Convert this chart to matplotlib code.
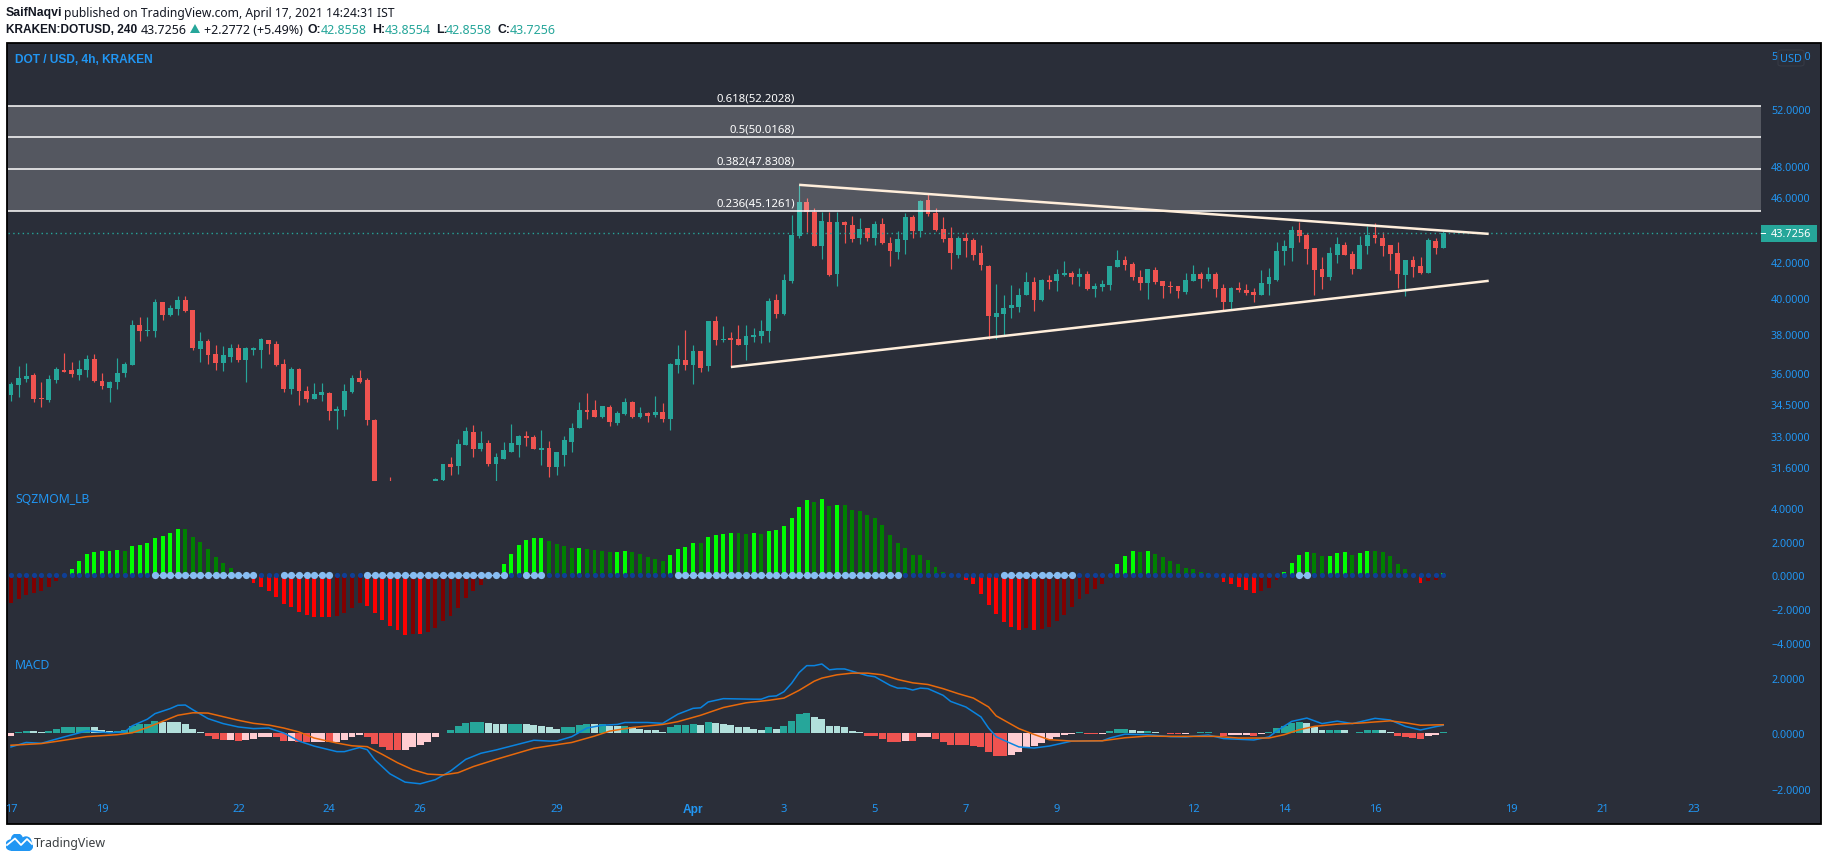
import numpy as np
import matplotlib
matplotlib.use("Agg")
import matplotlib.pyplot as plt
from matplotlib.patches import Rectangle, FancyBboxPatch, Circle, Polygon
from matplotlib.ticker import FixedLocator, FuncFormatter, NullLocator

# candles, 4h DOT/USD (bars hidden under the pane edge are guesses)
opens = [
    34.95, 35.40, 35.70, 35.90, 34.80, 34.70, 35.65, 36.15, 36.15, 35.90,
    36.15, 36.72, 35.60, 35.30, 35.55, 36.00, 36.41, 38.49, 38.16, 38.16,
    39.73, 39.03, 39.35, 39.84, 39.30, 37.23, 37.64, 36.97, 36.51, 36.82,
    37.28, 36.67, 37.18, 37.18, 37.69, 37.49, 36.46, 35.25, 36.21, 35.15,
    34.75, 34.95, 35.05, 34.19, 34.23, 35.10, 35.75, 35.65, 33.75, 29.60,
    30.20, 29.90, 29.20, 29.70, 29.40, 30.00, 30.60, 31.04, 31.74, 31.65,
    32.57, 33.17, 32.39, 32.67, 31.75, 31.98, 32.26, 32.57, 32.98, 32.94,
    32.35, 32.44, 31.62, 32.16, 32.71, 33.36, 34.20, 34.20, 33.88, 34.34,
    33.60, 34.02, 34.58, 33.88, 34.06, 33.97, 34.11, 33.78, 36.41, 36.66,
    36.41, 37.12, 36.36, 38.74, 37.71, 37.83, 37.78, 37.43, 37.88, 37.93,
    38.20, 39.87, 39.12, 40.95, 43.57, 45.67, 45.04, 42.98, 44.42, 41.35,
    44.42, 44.23, 43.45, 44.04, 43.45, 44.29, 43.16, 42.63, 43.33, 44.73,
    43.86, 45.79, 44.98, 43.98, 43.45, 42.45, 43.45, 43.33, 42.57, 41.81,
    38.96, 39.12, 39.44, 39.50, 40.15, 40.90, 39.87, 41.01, 40.95, 41.30,
    41.41, 41.13, 41.35, 40.50, 40.61, 40.73, 41.75, 42.16, 41.92, 41.18,
    40.84, 41.58, 40.95, 40.67, 40.67, 40.33, 40.95, 41.35, 41.07, 41.35,
    40.56, 39.77, 40.56, 40.44, 40.33, 40.15, 40.78, 41.01, 42.69, 42.86,
    43.92, 43.63, 42.86, 41.64, 41.18, 42.45, 43.04, 42.51, 41.64, 42.98,
    43.63, 43.45, 43.04, 42.57, 41.30, 42.16, 41.81, 41.41, 43.27, 42.8558,
]
highs = [
    35.57, 36.36, 36.50, 36.00, 35.55, 35.90, 36.31, 37.03, 36.56, 36.67,
    36.92, 36.97, 36.00, 35.60, 36.77, 36.56, 38.76, 38.92, 38.92, 39.94,
    39.78, 39.57, 40.06, 40.06, 39.30, 38.11, 37.74, 37.44, 37.38, 37.49,
    37.49, 37.33, 37.33, 37.79, 37.69, 37.64, 36.72, 36.31, 36.26, 35.35,
    35.50, 35.50, 35.10, 34.41, 35.45, 35.90, 36.15, 35.75, 33.77, 30.60,
    31.18, 30.40, 30.10, 30.00, 30.30, 30.80, 31.13, 31.74, 32.07, 32.86,
    33.41, 33.50, 33.22, 32.80, 32.21, 32.71, 33.55, 33.03, 33.22, 33.03,
    33.27, 32.76, 32.26, 32.98, 33.60, 34.58, 35.04, 34.69, 34.39, 34.44,
    34.16, 34.78, 34.64, 34.34, 34.11, 34.89, 34.53, 36.51, 37.43, 38.25,
    37.43, 37.12, 38.74, 39.01, 38.47, 38.14, 38.52, 38.52, 38.36, 38.79,
    39.98, 40.21, 41.35, 44.86, 46.78, 45.92, 45.29, 45.04, 45.04, 45.04,
    44.48, 44.79, 44.67, 44.04, 44.48, 44.67, 43.51, 43.86, 44.98, 44.86,
    45.79, 46.24, 45.29, 44.73, 44.10, 43.57, 43.75, 43.45, 43.04, 41.87,
    40.78, 40.15, 40.73, 40.56, 41.47, 41.18, 41.07, 41.30, 41.64, 42.10,
    41.52, 41.70, 41.52, 40.84, 41.01, 41.81, 42.75, 42.39, 42.04, 41.58,
    41.64, 41.75, 40.95, 40.95, 40.67, 41.41, 41.87, 41.47, 41.75, 41.47,
    40.78, 40.61, 40.90, 40.78, 40.56, 41.58, 41.70, 43.22, 43.33, 44.17,
    44.42, 43.75, 42.86, 42.33, 42.92, 43.51, 43.22, 42.69, 43.57, 44.17,
    44.35, 43.80, 43.04, 43.22, 42.16, 42.39, 42.33, 43.45, 43.45, 43.8554,
]
lows = [
    34.65, 34.85, 35.55, 34.60, 34.36, 34.60, 35.50, 36.05, 35.80, 35.65,
    35.80, 35.55, 35.25, 34.60, 35.25, 35.80, 36.41, 37.64, 37.90, 37.85,
    38.76, 38.97, 39.03, 39.19, 37.18, 36.56, 36.46, 36.15, 36.10, 36.56,
    36.56, 35.55, 36.92, 36.26, 36.97, 36.36, 35.10, 35.00, 34.45, 34.60,
    34.75, 34.65, 33.75, 33.33, 33.95, 35.05, 35.50, 33.53, 29.30, 29.00,
    29.60, 28.90, 28.80, 29.00, 29.10, 29.80, 30.50, 30.90, 31.27, 31.32,
    32.57, 32.07, 32.30, 31.66, 31.02, 31.94, 32.26, 32.07, 32.53, 32.39,
    31.71, 31.16, 31.25, 31.66, 32.26, 33.36, 33.78, 33.88, 33.83, 33.45,
    33.50, 33.97, 33.83, 33.83, 33.64, 33.88, 33.64, 33.27, 36.00, 36.15,
    35.49, 36.05, 36.10, 37.43, 37.63, 36.36, 37.43, 36.66, 37.63, 37.53,
    37.63, 38.90, 39.06, 40.84, 43.45, 43.80, 42.98, 42.22, 41.24, 40.67,
    43.16, 43.22, 43.10, 43.27, 43.04, 43.10, 41.81, 42.22, 42.51, 43.45,
    43.51, 44.79, 43.86, 43.22, 41.63, 42.27, 42.33, 42.16, 41.58, 37.78,
    37.78, 37.98, 38.90, 39.23, 40.15, 39.28, 39.82, 40.50, 40.38, 41.24,
    40.78, 40.67, 40.44, 40.04, 40.38, 40.44, 41.75, 41.58, 41.01, 40.44,
    39.93, 40.78, 39.98, 40.27, 39.98, 40.21, 40.95, 40.56, 40.95, 40.04,
    39.33, 39.39, 40.33, 40.15, 39.77, 40.15, 40.15, 40.95, 41.87, 42.10,
    43.22, 41.92, 40.15, 40.50, 41.01, 41.98, 42.45, 41.35, 41.64, 42.51,
    43.16, 42.39, 41.58, 40.56, 40.10, 41.18, 41.35, 41.41, 42.51, 42.8558,
]
closes = [
    35.45, 35.75, 35.85, 34.75, 34.75, 35.70, 36.21, 36.08, 35.95, 36.21,
    36.72, 35.60, 35.35, 35.55, 36.00, 36.46, 38.49, 38.16, 38.22, 39.73,
    39.03, 39.40, 39.84, 39.24, 37.28, 37.64, 36.92, 36.51, 36.92, 37.28,
    36.67, 37.28, 37.28, 37.74, 37.49, 36.41, 35.25, 36.21, 35.15, 34.75,
    35.00, 35.10, 34.19, 34.27, 35.15, 35.75, 35.55, 33.72, 29.60, 30.20,
    29.90, 29.20, 29.70, 29.40, 30.00, 30.60, 31.09, 31.74, 31.60, 32.63,
    33.22, 32.39, 32.67, 31.75, 32.03, 32.35, 32.67, 32.98, 32.89, 32.39,
    32.44, 31.62, 32.26, 32.80, 33.36, 34.20, 34.11, 33.88, 34.39, 33.64,
    34.06, 34.58, 33.88, 34.06, 33.92, 34.11, 33.78, 36.46, 36.72, 36.41,
    37.12, 36.26, 38.74, 37.73, 37.78, 37.73, 37.43, 37.93, 37.98, 38.20,
    39.82, 39.12, 41.01, 43.63, 45.67, 45.04, 42.98, 44.48, 41.30, 44.42,
    44.23, 43.39, 43.98, 43.45, 44.29, 43.16, 42.69, 43.39, 44.73, 43.86,
    45.73, 44.92, 43.92, 43.39, 42.57, 43.45, 43.27, 42.45, 41.87, 39.01,
    39.17, 39.44, 39.60, 40.15, 40.90, 39.87, 41.01, 40.90, 41.35, 41.41,
    41.13, 41.35, 40.50, 40.67, 40.78, 41.81, 42.16, 41.87, 41.18, 40.84,
    41.64, 40.90, 40.67, 40.61, 40.38, 41.01, 41.35, 41.07, 41.35, 40.50,
    39.77, 40.56, 40.44, 40.27, 40.15, 40.84, 41.13, 42.69, 42.98, 43.92,
    43.57, 42.80, 41.58, 41.18, 42.57, 43.10, 42.45, 41.64, 43.04, 43.63,
    43.45, 42.98, 42.51, 41.35, 42.16, 41.75, 41.41, 43.33, 42.86, 43.7256,
]

# fib levels and trend lines
fib_ratios = ["0.618", "0.5", "0.382", "0.236"]
fib_prices = [52.2028, 50.0168, 47.8308, 45.1261]
upper_trend_idx = [104, 195]
upper_trend_price = [46.78, 43.70]
lower_trend_idx = [95, 195]
lower_trend_price = [36.32, 40.94]
last_price = 43.7256

# squeeze momentum, L lime, G green, R red, M maroon
mom_values = [
    -1.65, -1.41, -1.17, -1.05, -0.93, -0.69, -0.34, 0.03, 0.38, 0.85,
    1.27, 1.39, 1.45, 1.45, 1.51, 1.45, 1.75, 1.81, 1.92, 2.22,
    2.34, 2.52, 2.76, 2.76, 2.28, 1.98, 1.57, 1.09, 0.73, 0.44,
    0.05, -0.10, -0.46, -0.69, -0.93, -1.29, -1.71, -1.88, -2.18, -2.36,
    -2.48, -2.48, -2.48, -2.42, -2.24, -1.94, -1.65, -1.83, -2.24, -2.66,
    -3.02, -3.25, -3.55, -3.49, -3.49, -3.37, -3.13, -2.72, -2.42, -1.94,
    -1.35, -0.93, -0.58, -0.22, -0.02, 0.67, 1.27, 1.81, 2.10, 2.22,
    2.22, 2.04, 1.87, 1.75, 1.63, 1.63, 1.57, 1.51, 1.45, 1.39,
    1.39, 1.45, 1.39, 1.27, 1.09, 0.97, 0.85, 1.21, 1.57, 1.69,
    1.92, 1.92, 2.28, 2.40, 2.46, 2.52, 2.52, 2.46, 2.52, 2.46,
    2.64, 2.70, 2.94, 3.41, 4.07, 4.48, 4.37, 4.54, 4.13, 4.19,
    4.19, 3.89, 3.83, 3.59, 3.41, 3.00, 2.40, 1.92, 1.63, 1.21,
    1.21, 0.91, 0.50, 0.20, 0.02, -0.02, -0.28, -0.52, -1.11, -1.77,
    -2.30, -2.78, -3.08, -3.25, -3.13, -3.25, -3.19, -3.08, -2.72, -2.36,
    -1.88, -1.41, -1.11, -0.81, -0.52, -0.02, 0.67, 1.15, 1.45, 1.39,
    1.45, 1.27, 1.09, 0.85, 0.67, 0.44, 0.38, 0.20, 0.14, 0.02,
    -0.40, -0.52, -0.69, -0.87, -1.05, -0.93, -0.75, -0.28, 0.20, 0.73,
    1.21, 1.39, 1.33, 1.15, 1.15, 1.33, 1.39, 1.21, 1.33, 1.45,
    1.45, 1.39, 1.15, 0.67, 0.38, -0.02, -0.46, -0.34, -0.28, 0.14,
]
mom_kinds = (
    "MMMMMMMLLL" "LLLLLGLLLL" "LLLGGGGGGG" "GRRRRRRRRR" "RRRMMMMRRR"
    "RRRMRMMMMM" "MMMMMLLLLL" "LGGGGLGGGG" "LLGGGGGLLL" "LGLLLLGGLG"
    "LLLLLLGLGL" "GGGGGGGGGG" "GGGGGRRRRR" "RRRRMRMMMM" "MMMMMMLLLG"
    "LGGGGGGGGG" "RRRRRMMMLL" "LLGGLLLGLL" "GGGGGRRMML"
)
# bars where the squeeze dot is light, first and last bar of each run
squeeze_runs = [(19, 32), (36, 42), (47, 65), (68, 70), (88, 117), (131, 140), (170, 171)]

# macd histogram, T teal, t pale teal, R red, r pale red
hist_values = [
    -0.10, 0.04, 0.08, 0.08, 0.04, 0.08, 0.16, 0.20, 0.20, 0.20,
    0.22, 0.20, 0.12, 0.08, 0.08, 0.12, 0.26, 0.34, 0.34, 0.44,
    0.40, 0.40, 0.40, 0.34, 0.16, 0.04, -0.10, -0.20, -0.24, -0.24,
    -0.28, -0.24, -0.20, -0.16, -0.14, -0.16, -0.28, -0.28, -0.32, -0.34,
    -0.34, -0.32, -0.34, -0.34, -0.24, -0.14, -0.06, -0.14, -0.38, -0.52,
    -0.60, -0.60, -0.60, -0.50, -0.42, -0.32, -0.16, 0.01, 0.12, 0.26,
    0.38, 0.40, 0.40, 0.38, 0.34, 0.34, 0.34, 0.34, 0.34, 0.30,
    0.26, 0.20, 0.16, 0.20, 0.22, 0.30, 0.34, 0.34, 0.34, 0.26,
    0.26, 0.26, 0.22, 0.16, 0.12, 0.12, 0.04, 0.20, 0.30, 0.30,
    0.34, 0.30, 0.40, 0.38, 0.34, 0.30, 0.22, 0.20, 0.16, 0.12,
    0.20, 0.16, 0.26, 0.44, 0.68, 0.74, 0.58, 0.50, 0.26, 0.26,
    0.20, 0.08, 0.04, -0.10, -0.10, -0.20, -0.32, -0.34, -0.28, -0.28,
    -0.16, -0.16, -0.20, -0.32, -0.42, -0.42, -0.42, -0.46, -0.52, -0.70,
    -0.82, -0.82, -0.78, -0.67, -0.53, -0.46, -0.35, -0.20, -0.13, -0.06,
    -0.02, 0.04, -0.02, -0.02, -0.02, 0.08, 0.16, 0.16, 0.12, 0.08,
    0.08, 0.05, 0.01, -0.02, -0.02, -0.02, 0.01, 0.05, 0.05, 0.01,
    -0.10, -0.06, -0.06, -0.06, -0.10, -0.02, 0.05, 0.19, 0.26, 0.37,
    0.40, 0.37, 0.23, 0.12, 0.12, 0.12, 0.12, 0.01, 0.05, 0.12,
    0.12, 0.12, 0.05, -0.10, -0.13, -0.17, -0.20, -0.10, -0.06, 0.05,
]
hist_kinds = (
    "rTTttTTTTT" "TtttTTTTTT" "ttttttRRRr" "RrrrrRRrRR" "rrRrrrrRRR"
    "RRrrrrrTTT" "TTTtttTTtt" "tttTTTTtTt" "tTtttttTTT" "TtTttttttt"
    "TtTTTTtttt" "tttRRRRRrR" "rrRRRRRRRR" "RRrrrrrrrr" "rTRRrTTTtt"
    "TttRRrTTTt" "RrrrRrTTTT" "TtttTTttTT" "TttRRRRrrT"
)
macd_idx = [
    0, 2, 4, 7, 10, 13, 15, 16, 18, 19, 21, 22, 23, 24, 26, 28, 30, 32, 34, 36,
    38, 40, 43, 44, 46, 47, 48, 50, 52, 54, 56, 58, 60, 62, 64, 67, 69, 71, 72, 74,
    76, 78, 80, 81, 84, 86, 88, 90, 91, 92, 94, 98, 99, 100, 101, 102, 103, 104, 105, 106,
    107, 108, 109, 110, 111, 113, 114, 116, 117, 118, 119, 120, 121, 123, 124, 126, 128, 129, 130, 131,
    132, 133, 135, 137, 140, 144, 145, 147, 150, 153, 155, 158, 160, 164, 166, 167, 169, 171, 173, 175,
    177, 180, 182, 184, 186, 188, 189,
]
macd_line = [
    -0.50, -0.34, -0.37, -0.14, 0.08, 0.01, 0.04, 0.26, 0.50, 0.70, 0.88, 1.00, 1.01, 0.84, 0.52, 0.34, 0.22, 0.16, 0.18, 0.00,
    -0.29, -0.47, -0.67, -0.67, -0.52, -0.60, -0.96, -1.47, -1.77, -1.83, -1.68, -1.37, -0.95, -0.73, -0.61, -0.40, -0.26, -0.29, -0.29, -0.13,
    0.18, 0.28, 0.31, 0.38, 0.38, 0.35, 0.68, 0.89, 0.91, 1.12, 1.24, 1.22, 1.22, 1.32, 1.34, 1.49, 1.79, 2.18, 2.43, 2.43,
    2.49, 2.28, 2.31, 2.31, 2.23, 2.07, 2.03, 1.72, 1.62, 1.62, 1.55, 1.62, 1.60, 1.36, 1.14, 0.94, 0.58, 0.18, -0.13, -0.26,
    -0.38, -0.50, -0.54, -0.47, -0.29, -0.28, -0.18, -0.04, -0.06, -0.13, -0.14, -0.07, -0.20, -0.25, -0.14, 0.07, 0.42, 0.54, 0.34, 0.43,
    0.34, 0.53, 0.47, 0.24, 0.11, 0.23, 0.28,
]
signal_idx = [
    0, 4, 7, 10, 14, 16, 18, 20, 22, 24, 26, 28, 30, 32, 34, 36, 38, 40, 43, 45,
    47, 49, 51, 53, 55, 57, 59, 61, 64, 69, 72, 74, 77, 79, 82, 86, 88, 91, 94, 97,
    100, 102, 104, 106, 107, 109, 111, 113, 115, 117, 119, 121, 123, 125, 127, 129, 130, 133, 135, 137,
    140, 144, 147, 150, 153, 156, 159, 162, 166, 168, 170, 172, 175, 178, 182, 184, 186, 189,
]
signal_line = [
    -0.44, -0.38, -0.26, -0.13, -0.06, 0.01, 0.20, 0.42, 0.64, 0.73, 0.72, 0.59, 0.46, 0.35, 0.29, 0.18, 0.04, -0.18, -0.36, -0.46,
    -0.49, -0.77, -1.07, -1.32, -1.48, -1.51, -1.43, -1.21, -0.95, -0.55, -0.42, -0.34, -0.11, 0.07, 0.20, 0.31, 0.41, 0.64, 0.92, 1.09,
    1.18, 1.26, 1.54, 1.87, 1.98, 2.10, 2.16, 2.16, 2.10, 1.93, 1.81, 1.75, 1.60, 1.42, 1.26, 0.94, 0.62, 0.16, -0.05, -0.24,
    -0.29, -0.28, -0.17, -0.11, -0.12, -0.12, -0.12, -0.18, -0.18, -0.06, 0.12, 0.24, 0.32, 0.36, 0.44, 0.37, 0.28, 0.30,
]

# axis labels
price_ticks = [56, 52, 48, 46, 44, 42, 40, 38, 36, 34.5, 33, 31.6]
mom_ticks = [4, 2, 0, -2, -4]
macd_ticks = [2, 0, -2]
date_idx = [0, 12, 30, 42, 54, 72, 90, 102, 114, 126, 138, 156, 168, 180, 198, 210, 222]
date_labels = ["17", "19", "22", "24", "26", "29", "Apr", "3", "5", "7", "9", "12", "14", "16", "19", "21", "23"]

W, H = 1828, 862
BG = "#2a2e39"
BLUE = "#2196f3"
TEAL = "#26a69a"
RED = "#ef5350"
CREAM = "#ffeedb"
FONT = "Noto Sans"
BOLD_FONT = "Liberation Sans"  # Noto Sans here has no bold face
TICK_SIZE = 7.7

plt.rcParams["font.family"] = FONT


def pane(top, bottom, ymin, ymax):
    ax = fig.add_axes([8 / W, 1 - bottom / H, (1761 - 8) / W, (bottom - top) / H])
    ax.patch.set_alpha(0)
    for s in ax.spines.values():
        s.set_visible(False)
    # bar 0 sits at x=11px, 7.578px per bar
    ax.set_xlim((8 - 11) / 7.578, (1761 - 11) / 7.578)
    ax.set_ylim(ymin, ymax)
    ax.yaxis.tick_right()
    ax.tick_params(axis="y", length=0, pad=7.2, labelcolor=BLUE, labelsize=TICK_SIZE)
    ax.set_xticks([])
    return ax


def label_fmt(v, pos):
    return f"{v:.4f}".replace("-", "\u2212")


def top_text(x, y, s, color="#131722", weight="normal", size=9.2, ha="left"):
    family = BOLD_FONT if weight == "bold" else FONT
    fig.text(x / W, 1 - y / H, s, color=color, fontweight=weight, fontsize=size, va="center", ha=ha, family=family)


fig = plt.figure(figsize=(W / 100, H / 100), dpi=100, facecolor="white")
fig.patches.append(Rectangle((6.5 / W, 1 - 825 / H), (1821 - 6.5) / W, (825 - 43.5) / H, transform=fig.transFigure,
                             facecolor=BG, edgecolor="black", linewidth=1.3, zorder=-5))

# price pane
ax1 = pane(44, 482, 31.0, 56.97)
ax1.set_yscale("log")
ax1.set_ylim(31.0, 56.97)
ax1.yaxis.set_major_locator(FixedLocator(price_ticks))
ax1.yaxis.set_minor_locator(NullLocator())
ax1.yaxis.set_major_formatter(FuncFormatter(label_fmt))

bars = np.arange(len(closes))
o = np.array(opens)
c = np.array(closes)
candle_colors = [TEAL if c[i] >= o[i] else RED for i in bars]
ax1.vlines(bars, lows, highs, colors=candle_colors, linewidth=0.85, zorder=2)
ax1.bar(bars, np.abs(c - o), bottom=np.minimum(o, c), width=0.64, color=candle_colors, linewidth=0, zorder=3)

ax1.axhline(last_price, color=TEAL, linewidth=1.0, linestyle=(0, (1, 2.4)), zorder=4)

# fib band goes over the candles so they look washed out in there
ax1.axhspan(fib_prices[3], fib_prices[0], facecolor="white", alpha=0.2, linewidth=0, zorder=5)
for ratio, price in zip(fib_ratios, fib_prices):
    ax1.axhline(price, color="white", linewidth=1.1, zorder=6)
    ax1.annotate(f"{ratio}({price:.4f})", (103.5, price), xytext=(0, 1.5), textcoords="offset points",
                 color="white", fontsize=8.2, ha="right", va="bottom", zorder=7)

ax1.plot(upper_trend_idx, upper_trend_price, color=CREAM, linewidth=1.8, zorder=8, solid_capstyle="butt")
ax1.plot(lower_trend_idx, lower_trend_price, color=CREAM, linewidth=1.8, zorder=8, solid_capstyle="butt")

# squeeze pane
ax2 = pane(482, 650, -4.37, 5.6)
ax2.set_yticks(mom_ticks)
ax2.yaxis.set_major_formatter(FuncFormatter(label_fmt))
kind_colors = {"L": "#00ff00", "G": "#008000", "R": "#ff0000", "M": "#800000"}
ax2.bar(bars, mom_values, width=0.52, color=[kind_colors[k] for k in mom_kinds], linewidth=0, zorder=2)
light = np.zeros(len(bars), dtype=bool)
for a, b in squeeze_runs:
    light[a:b + 1] = True
    ax2.plot([a, b], [0, 0], color="#87bdf2", linewidth=1.0, zorder=3)
ax2.scatter(bars[~light], np.zeros((~light).sum()), s=14, color="#0f3f96", linewidth=0, zorder=4)
ax2.scatter(bars[light], np.zeros(light.sum()), s=27, color="#87bdf2", linewidth=0, zorder=4)

# macd pane, the date axis hangs under it
ax3 = pane(650, 797, -2.27, 3.03)
ax3.set_yticks(macd_ticks)
ax3.yaxis.set_major_formatter(FuncFormatter(label_fmt))
hist_colors = {"T": TEAL, "t": "#b2dfdb", "R": RED, "r": "#ffcdd2"}
ax3.bar(bars, hist_values, width=0.92, color=[hist_colors[k] for k in hist_kinds], linewidth=0, zorder=2)
ax3.plot(macd_idx, macd_line, color="#0a84e0", linewidth=1.1, zorder=3)
ax3.plot(signal_idx, signal_line, color="#e8690b", linewidth=1.1, zorder=4)
ax3.set_xticks(date_idx)
ax3.set_xticklabels(date_labels)
ax3.tick_params(axis="x", length=0, pad=5, labelcolor=BLUE, labelsize=8)
apr_label = ax3.get_xticklabels()[date_labels.index("Apr")]
apr_label.set_family(BOLD_FONT)
apr_label.set_fontweight("bold")
apr_label.set_fontsize(8.6)

# pane titles
top_text(15, 60, "DOT / USD, 4h, KRAKEN", color=BLUE, weight="bold", size=8.6)
top_text(15, 500, "SQZMOM_LB", color=BLUE, size=8.8)
top_text(15, 666, "MACD", color=BLUE, size=8.8)

# last price box and the USD button
fig.patches.append(Rectangle((1761 / W, 1 - 243 / H), 56 / W, 17 / H, transform=fig.transFigure,
                             facecolor=TEAL, edgecolor="none", zorder=10))
fig.patches.append(Rectangle((1761 / W, 1 - 234.8 / H), 5 / W, 1 / H, transform=fig.transFigure,
                             facecolor="white", edgecolor="none", zorder=11))
top_text(1771, 234.3, f"{last_price:.4f}", color="white", size=TICK_SIZE + 0.1)
fig.texts[-1].set_zorder(12)
fig.patches.append(FancyBboxPatch((1778 / W, 1 - 67 / H), 26 / W, 16 / H, transform=fig.transFigure,
                                  boxstyle="round,pad=0,rounding_size=0.002", facecolor=BG, edgecolor="#363a45",
                                  linewidth=0.8, zorder=10))
top_text(1791, 59.5, "USD", color=BLUE, size=TICK_SIZE + 0.2, ha="center")
fig.texts[-1].set_zorder(12)

# header
top_text(6, 13, "SaifNaqvi", weight="bold", size=8.8)
top_text(64, 13, "published on TradingView.com, April 17, 2021 14:24:31 IST", size=8.7)
top_text(6, 30, "KRAKEN:DOTUSD, 240", weight="bold", size=8.6)
top_text(141, 30, "43.7256", size=9)
fig.patches.append(Polygon([[190 / W, 1 - 34 / H], [200 / W, 1 - 34 / H], [195 / W, 1 - 25 / H]],
                           transform=fig.transFigure, facecolor=TEAL, edgecolor="none"))
top_text(204, 30, "+2.2772 (+5.49%)", size=9)
for x, s in [(307, "O:"), (372, "H:"), (436, "L:"), (497, "C:")]:
    top_text(x, 30, s, weight="bold", size=8.8)
for x, s in [(321, "42.8558"), (385, "43.8554"), (446, "42.8558"), (510, "43.7256")]:
    top_text(x, 30, s, color="#26a69a", size=9)

# logo, cloud with a zigzag
logo = fig.add_axes([6 / W, 1 - 852 / H, 27 / W, 17 / H])
logo.set_xlim(0, 27)
logo.set_ylim(17, 0)
logo.axis("off")
logo.add_patch(Circle((5, 11), 5, color=BLUE))
logo.add_patch(Circle((11, 5.5), 5.5, color=BLUE))
logo.add_patch(Circle((20, 8), 5, color=BLUE))
logo.add_patch(Circle((22, 12), 4.5, color=BLUE))
logo.add_patch(Rectangle((5, 8), 17, 8.5, color=BLUE))
logo.plot([1, 9, 15, 21, 26], [11, 4.5, 11, 5, 10], color="white", linewidth=1.3)
top_text(34, 843.5, "TradingView", color="#3c4043", size=8.9)

fig.savefig("out.png", dpi=100, facecolor="white")
